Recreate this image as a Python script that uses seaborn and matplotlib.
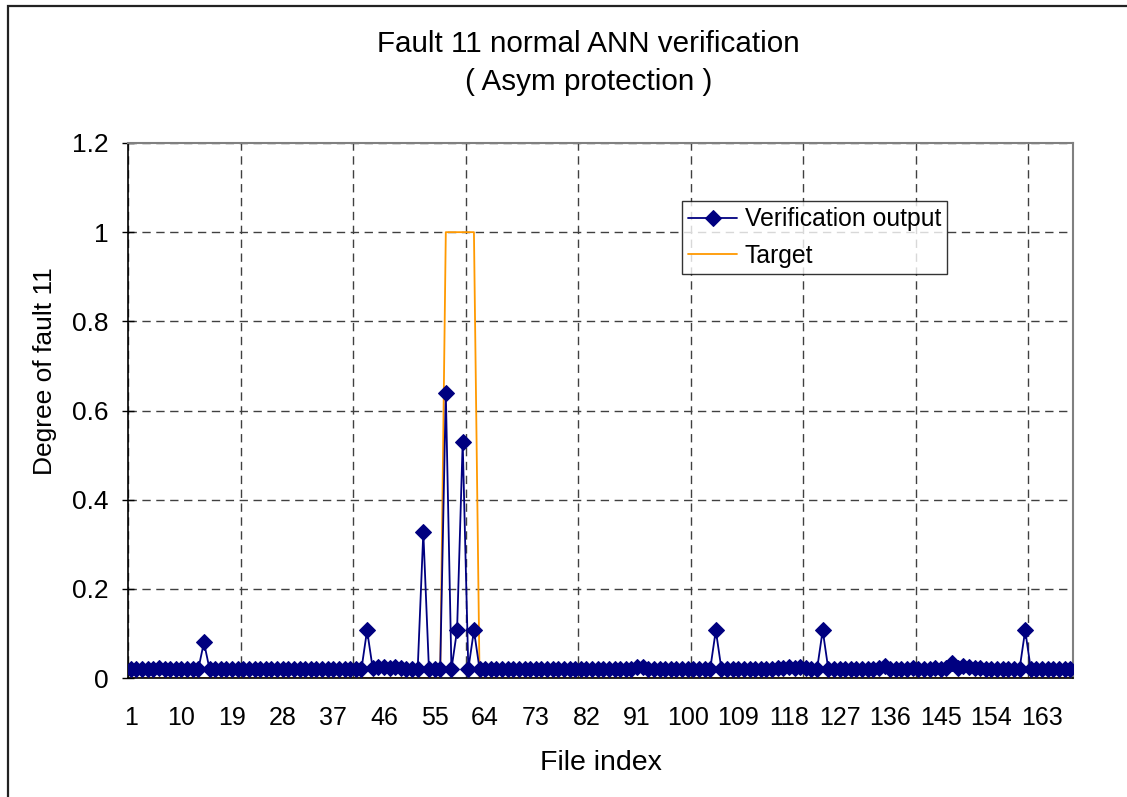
import numpy as np
import pandas as pd
import matplotlib
matplotlib.use("Agg")
import matplotlib.pyplot as plt
from matplotlib.patches import Rectangle
from matplotlib.ticker import FixedLocator, FuncFormatter
import seaborn as sns

# ---- data ----
file_index = list(range(1, 169))

verification = [
    0.020, 0.020, 0.020, 0.020, 0.021, 0.023, 0.020, 0.020, 0.020, 0.020, 0.020, 0.020,   # 1-12
    0.020, 0.080, 0.020, 0.020, 0.020, 0.020, 0.020, 0.020, 0.020, 0.020, 0.020, 0.020,   # 13-24
    0.020, 0.020, 0.020, 0.020, 0.020, 0.020, 0.020, 0.020, 0.020, 0.020, 0.020, 0.020,   # 25-36
    0.020, 0.020, 0.020, 0.020, 0.020, 0.020, 0.107, 0.022, 0.024, 0.025, 0.023, 0.024,   # 37-48
    0.022, 0.021, 0.021, 0.020, 0.327, 0.020, 0.021, 0.020, 0.640, 0.020, 0.107, 0.530,   # 49-60
    0.020, 0.107, 0.020, 0.020, 0.020, 0.020, 0.020, 0.020, 0.020, 0.020, 0.020, 0.020,   # 61-72
    0.020, 0.020, 0.020, 0.020, 0.020, 0.020, 0.020, 0.020, 0.020, 0.020, 0.020, 0.020,   # 73-84
    0.020, 0.020, 0.020, 0.020, 0.020, 0.021, 0.025, 0.024, 0.021, 0.020, 0.020, 0.020,   # 85-96
    0.020, 0.020, 0.020, 0.020, 0.020, 0.020, 0.020, 0.020, 0.107, 0.020, 0.020, 0.020,   # 97-108
    0.020, 0.020, 0.020, 0.020, 0.020, 0.020, 0.021, 0.022, 0.023, 0.024, 0.023, 0.024,   # 109-120
    0.022, 0.021, 0.020, 0.107, 0.020, 0.020, 0.020, 0.020, 0.020, 0.020, 0.020, 0.020,   # 121-132
    0.021, 0.022, 0.027, 0.021, 0.020, 0.020, 0.021, 0.022, 0.020, 0.020, 0.021, 0.022,   # 133-144
    0.020, 0.022, 0.034, 0.022, 0.026, 0.025, 0.023, 0.022, 0.021, 0.020, 0.020, 0.020,   # 145-156
    0.020, 0.020, 0.020, 0.107, 0.020, 0.020, 0.020, 0.020, 0.020, 0.020, 0.020, 0.020,   # 157-168
]

target = [
    0, 0, 0, 0, 0, 0, 0, 0, 0, 0, 0, 0,   # 1-12
    0, 0, 0, 0, 0, 0, 0, 0, 0, 0, 0, 0,   # 13-24
    0, 0, 0, 0, 0, 0, 0, 0, 0, 0, 0, 0,   # 25-36
    0, 0, 0, 0, 0, 0, 0, 0, 0, 0, 0, 0,   # 37-48
    0, 0, 0, 0, 0, 0, 0, 0, 1, 1, 1, 1,   # 49-60
    1, 1, 0, 0, 0, 0, 0, 0, 0, 0, 0, 0,   # 61-72
    0, 0, 0, 0, 0, 0, 0, 0, 0, 0, 0, 0,   # 73-84
    0, 0, 0, 0, 0, 0, 0, 0, 0, 0, 0, 0,   # 85-96
    0, 0, 0, 0, 0, 0, 0, 0, 0, 0, 0, 0,   # 97-108
    0, 0, 0, 0, 0, 0, 0, 0, 0, 0, 0, 0,   # 109-120
    0, 0, 0, 0, 0, 0, 0, 0, 0, 0, 0, 0,   # 121-132
    0, 0, 0, 0, 0, 0, 0, 0, 0, 0, 0, 0,   # 133-144
    0, 0, 0, 0, 0, 0, 0, 0, 0, 0, 0, 0,   # 145-156
    0, 0, 0, 0, 0, 0, 0, 0, 0, 0, 0, 0,   # 157-168
]

x_labels = [str(v) for v in range(1, 169, 9)]
y_ticks = [0, 0.2, 0.4, 0.6, 0.8, 1.0, 1.2]

df = pd.DataFrame({"File index": file_index,
                   "Verification output": verification,
                   "Target": target})

sns.set_style("white")
plt.rcParams["font.family"] = ["Liberation Sans", "DejaVu Sans"]
plt.rcParams["text.color"] = "black"
plt.rcParams["xtick.color"] = "black"
plt.rcParams["ytick.color"] = "black"
plt.rcParams["axes.labelcolor"] = "black"

fig = plt.figure(figsize=(11.27, 7.97), dpi=100)
ax = fig.add_axes([128 / 1127, 1 - 678 / 797, 945 / 1127, 535 / 797])

# outer chart border (only top/left visible in the reference)
fig.patches.append(Rectangle((8 / 1127, -0.1), 1.2, 1 - 6 / 797 + 0.1,
                             transform=fig.transFigure, fill=False,
                             edgecolor="#222222", linewidth=1.6, zorder=0))

sns.lineplot(data=df, x="File index", y="Verification output", ax=ax,
             color="#000080", linewidth=1.3, marker="D", markersize=8.3,
             markeredgecolor="#000080", label="Verification output", zorder=3)
sns.lineplot(data=df, x="File index", y="Target", ax=ax,
             color="#FF9900", linewidth=1.3, label="Target", zorder=2)

ax.set_xlim(0.5, 168.5)
ax.set_ylim(0, 1.2)

# labels every 9 files, grid/tick marks every 20 categories
ax.xaxis.set_major_locator(FixedLocator(list(range(1, 169, 9))))
ax.set_xticklabels(x_labels)
ax.xaxis.set_minor_locator(FixedLocator([0.5 + 20 * k for k in range(9)]))
ax.tick_params(axis="x", which="major", length=0, pad=20, labelsize=18)
ax.tick_params(axis="x", which="minor", length=8, direction="inout",
               width=1, color="black")
ax.xaxis.grid(True, which="minor", linestyle=(0, (6, 4)), color="#404040",
              linewidth=1)
ax.xaxis.grid(False, which="major")

ax.yaxis.set_major_locator(FixedLocator(y_ticks))
ax.yaxis.set_major_formatter(FuncFormatter(lambda v, p: "%g" % v))
ax.tick_params(axis="y", which="major", length=8, direction="inout",
               width=1, color="black", pad=10, labelsize=19, left=True)
ax.yaxis.grid(True, linestyle=(0, (6, 4)), color="#404040", linewidth=1)

for side in ["left", "bottom"]:
    ax.spines[side].set_color("black")
    ax.spines[side].set_linewidth(1.2)
for side in ["top", "right"]:
    ax.spines[side].set_color("#808080")
    ax.spines[side].set_linewidth(1.5)
    ax.spines[side].set_visible(True)

ax.set_xlabel("")
ax.set_ylabel("")
fig.text(601 / 1127, 1 - 763 / 797, "File index", ha="center", va="center",
         fontsize=20.5)
fig.text(45 / 1127, 1 - 371 / 797, "Degree of fault 11", ha="center",
         va="center", rotation=90, fontsize=19)
fig.text(588.5 / 1127, 1 - 44 / 797, "Fault 11 normal ANN verification",
         ha="center", va="center", fontsize=21.3)
fig.text(588.5 / 1127, 1 - 82 / 797, "( Asym protection )",
         ha="center", va="center", fontsize=21.3)

leg = ax.legend(loc="upper left", bbox_to_anchor=(0.586, 0.8916),
                borderaxespad=0, frameon=True, fancybox=False, shadow=False,
                fontsize=17.8, handlelength=2.0, handletextpad=0.3,
                labelspacing=0.5, borderpad=0.25)
leg.get_frame().set_edgecolor("black")
leg.get_frame().set_linewidth(1.0)

fig.savefig("out.png", dpi=100, facecolor="white")
